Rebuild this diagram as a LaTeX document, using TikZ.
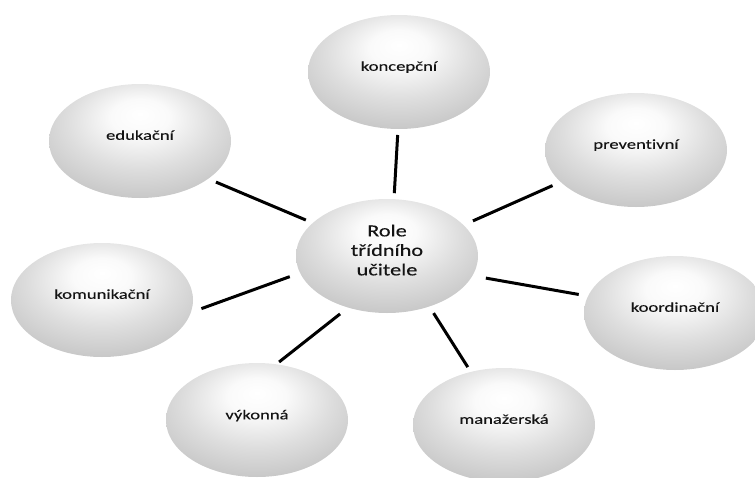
\documentclass[tikz,border=0pt]{standalone}
\usepackage{fontspec}
\setmainfont{Carlito}[Ligatures={NoCommon,NoContextual}, FakeBold=0.2]
\usetikzlibrary{shapes.geometric}
\pgfdeclareradialshading{bubble}{\pgfpoint{0bp}{12bp}}{color(0bp)=(white); color(8bp)=(white!98!black); color(20bp)=(white!87!black); color(30bp)=(white!79!black); color(37bp)=(white!73!black); color(60bp)=(white!71!black)}
\newcommand{\bubbletext}[3]{\raisebox{#1}[\height][\depth]{\scalebox{#2}[1]{\begin{tabular}{@{}c@{}}#3\end{tabular}}}}
\tikzset{
  role/.style={ellipse, draw=none, shade, shading=bubble, minimum width=182pt, minimum height=114pt,
    inner sep=0pt, outer sep=0pt, text=black!92, font=\fontsize{13.6pt}{16.3pt}\selectfont},
  hub/.style={role, font=\fontsize{17pt}{19.5pt}\selectfont},
  spoke/.style={line width=3pt, draw=black}
}
\begin{document}
\begin{tikzpicture}[x=1pt, y=-1pt]
\useasboundingbox (0,0) rectangle (755,477);
\node[hub]  (c) at (387,256) {\bubbletext{4pt}{1.31}{Role\\třídního\\učitele}};
\node[role] (n) at (399,72)  {\bubbletext{4.5pt}{1.37}{koncepční}};
\node[role] (e) at (140,141) {\bubbletext{4.5pt}{1.37}{edukační}};
\node[role] (p) at (636,150) {\bubbletext{4.5pt}{1.37}{preventivní}};
\node[role] (k) at (102,300) {\bubbletext{4.5pt}{1.37}{komunikační}};
\node[role] (r) at (675,313) {\bubbletext{4.5pt}{1.37}{koordinační}};
\node[role] (v) at (257,420) {\bubbletext{4pt}{1.37}{výkonná}};
\node[role] (m) at (504,425) {\bubbletext{4.5pt}{1.37}{manažerská}};
\draw[spoke, shorten <=6pt, shorten >=6pt] (n.269) -- (c.83);
\draw[spoke, shorten <=8.5pt, shorten >=7.6pt] (e.-29) -- (c.156);
\draw[spoke, shorten <=8.9pt, shorten >=10.4pt] (p.203) -- (c.22);
\draw[spoke, shorten <=11.3pt, shorten >=11pt] (k.-8) -- (c.191);
\draw[spoke, shorten <=13.7pt, shorten >=9.5pt] (c.-13) -- (r.169);
\draw[spoke, shorten <=10.3pt, shorten >=3.7pt] (c.233) -- (v.71);
\draw[spoke, shorten <=7.9pt, shorten >=5.7pt] (c.-50) -- (m.122);
\end{tikzpicture}
\end{document}
